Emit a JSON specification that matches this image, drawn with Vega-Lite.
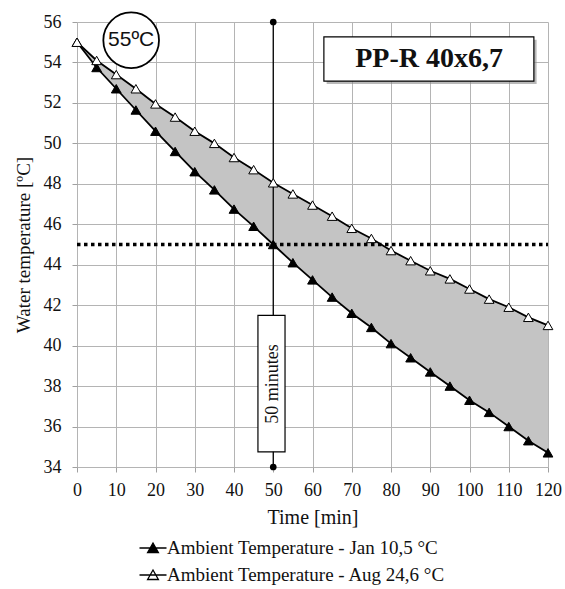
{
  "$schema": "https://vega.github.io/schema/vega-lite/v6.json",
  "width": 471,
  "height": 445,
  "autosize": {"type": "none"},
  "padding": {"left": 77, "top": 22, "right": 17, "bottom": 122},
  "background": "white",
  "datasets": {
    "temps": [
      {"t": 0, "jan": 55.0, "aug": 55.0},
      {"t": 5, "jan": 53.75, "aug": 54.1},
      {"t": 10, "jan": 52.7, "aug": 53.4},
      {"t": 15, "jan": 51.65, "aug": 52.7},
      {"t": 20, "jan": 50.6, "aug": 51.95},
      {"t": 25, "jan": 49.6, "aug": 51.3},
      {"t": 30, "jan": 48.6, "aug": 50.6},
      {"t": 35, "jan": 47.7, "aug": 50.0},
      {"t": 40, "jan": 46.75, "aug": 49.3},
      {"t": 45, "jan": 45.9, "aug": 48.7},
      {"t": 50, "jan": 45.0, "aug": 48.05},
      {"t": 55, "jan": 44.1, "aug": 47.5},
      {"t": 60, "jan": 43.25, "aug": 46.95},
      {"t": 65, "jan": 42.4, "aug": 46.4},
      {"t": 70, "jan": 41.6, "aug": 45.8},
      {"t": 75, "jan": 40.9, "aug": 45.3},
      {"t": 80, "jan": 40.1, "aug": 44.7},
      {"t": 85, "jan": 39.4, "aug": 44.2},
      {"t": 90, "jan": 38.7, "aug": 43.7},
      {"t": 95, "jan": 38.0, "aug": 43.3},
      {"t": 100, "jan": 37.3, "aug": 42.8},
      {"t": 105, "jan": 36.7, "aug": 42.3},
      {"t": 110, "jan": 36.0, "aug": 41.9},
      {"t": 115, "jan": 35.3, "aug": 41.4},
      {"t": 120, "jan": 34.7, "aug": 41.0}
    ]
  },
  "config": {
    "view": {"stroke": null},
    "axis": {
      "labelFont": "Liberation Serif",
      "labelFontSize": 18,
      "labelColor": "#111",
      "labelOverlap": false,
      "titleFont": "Liberation Serif",
      "titleFontSize": 19,
      "titleFontWeight": "normal",
      "titleColor": "#111",
      "gridColor": "#b4b4b4",
      "gridWidth": 1,
      "tickColor": "#a0a0a0",
      "tickSize": 5,
      "domain": false
    },
    "axisX": {"labelPadding": 9, "titlePadding": 8, "titleFontSize": 20, "labelFlush": false, "labelBound": false, "labelOverlap": false},
    "axisY": {"labelPadding": 11, "titlePadding": 10, "labelOverlap": false}
  },
  "layer": [
    {
      "data": {"name": "temps"},
      "mark": {"type": "area", "color": "#c4c4c4", "opacity": 1},
      "encoding": {
        "x": {"field": "t", "type": "quantitative", "scale": {"domain": [0, 120], "nice": false},
              "axis": {"values": [0,10,20,30,40,50,60,70,80,90,100,110,120], "title": "Time [min]", "labelOverlap": false}},
        "y": {"field": "jan", "type": "quantitative", "scale": {"domain": [34, 56], "nice": false, "zero": false},
              "axis": {"values": [34,36,38,40,42,44,46,48,50,52,54,56], "title": "Water temperature [ºC]", "labelOverlap": false}},
        "y2": {"field": "aug"}
      }
    },
    {
      "data": {"values": [{"x0": 0, "x1": 120, "y": 45}]},
      "mark": {"type": "rule", "color": "black", "strokeWidth": 3.5, "strokeDash": [3.5, 3.5]},
      "encoding": {
        "x": {"field": "x0", "type": "quantitative", "axis": {"values": [0,10,20,30,40,50,60,70,80,90,100,110,120], "title": "Time [min]", "labelOverlap": false}},
        "x2": {"field": "x1"},
        "y": {"field": "y", "type": "quantitative", "axis": {"values": [34,36,38,40,42,44,46,48,50,52,54,56], "title": "Water temperature [ºC]", "labelOverlap": false}}
      }
    },
    {
      "data": {"values": [{"x": 50, "y0": 34, "y1": 56}]},
      "mark": {"type": "rule", "color": "black", "strokeWidth": 1.3},
      "encoding": {
        "x": {"field": "x", "type": "quantitative", "axis": {"values": [0,10,20,30,40,50,60,70,80,90,100,110,120], "title": "Time [min]", "labelOverlap": false}},
        "y": {"field": "y0", "type": "quantitative", "axis": {"values": [34,36,38,40,42,44,46,48,50,52,54,56], "title": "Water temperature [ºC]", "labelOverlap": false}},
        "y2": {"field": "y1"}
      }
    },
    {
      "data": {"values": [{"x": 50, "y": 34}, {"x": 50, "y": 56}]},
      "mark": {"type": "point", "shape": "circle", "filled": true, "color": "black", "size": 45, "opacity": 1},
      "encoding": {
        "x": {"field": "x", "type": "quantitative", "axis": {"values": [0,10,20,30,40,50,60,70,80,90,100,110,120], "title": "Time [min]", "labelOverlap": false}},
        "y": {"field": "y", "type": "quantitative", "axis": {"values": [34,36,38,40,42,44,46,48,50,52,54,56], "title": "Water temperature [ºC]", "labelOverlap": false}}
      }
    },
    {
      "data": {"name": "temps"},
      "transform": [{"fold": ["jan", "aug"], "as": ["series", "temp"]}],
      "mark": {"type": "line", "color": "black", "strokeWidth": 1.8},
      "encoding": {
        "x": {"field": "t", "type": "quantitative", "axis": {"values": [0,10,20,30,40,50,60,70,80,90,100,110,120], "title": "Time [min]", "labelOverlap": false}},
        "y": {"field": "temp", "type": "quantitative", "axis": {"values": [34,36,38,40,42,44,46,48,50,52,54,56], "title": "Water temperature [ºC]", "labelOverlap": false}},
        "detail": {"field": "series"}
      }
    },
    {
      "data": {"name": "temps"},
      "transform": [{"fold": ["jan", "aug"], "as": ["series", "temp"]}],
      "mark": {"type": "point", "shape": "triangle-up", "filled": true, "stroke": "black", "strokeWidth": 1, "size": 95, "opacity": 1},
      "encoding": {
        "x": {"field": "t", "type": "quantitative", "axis": {"values": [0,10,20,30,40,50,60,70,80,90,100,110,120], "title": "Time [min]", "labelOverlap": false}},
        "y": {"field": "temp", "type": "quantitative", "axis": {"values": [34,36,38,40,42,44,46,48,50,52,54,56], "title": "Water temperature [ºC]", "labelOverlap": false}},
        "fill": {
          "field": "series", "type": "nominal",
          "scale": {"domain": ["jan", "aug"], "range": ["black", "white"]},
          "legend": {
            "title": null,
            "orient": "none",
            "legendX": 66,
            "legendY": 516,
            "direction": "vertical",
            "labelFont": "Liberation Serif",
            "labelFontSize": 19,
            "labelColor": "#111",
            "labelLimit": 500,
            "labelOffset": 4,
            "rowPadding": 7,
            "symbolType": "M-1.5,0H1.5M0,-0.55L0.6,0.5H-0.6Z",
            "symbolSize": 324,
            "symbolStrokeColor": "black",
            "symbolStrokeWidth": 1.3,
            "symbolOpacity": 1,
            "labelExpr": "datum.label == 'jan' ? 'Ambient Temperature - Jan 10,5 °C' : 'Ambient Temperature - Aug 24,6 °C'"
          }
        }
      }
    },
    {
      "data": {"values": [{"x0": 46.1, "x1": 53.0, "y0": 34.75, "y1": 41.5}]},
      "mark": {"type": "rect", "fill": "white", "stroke": "black", "strokeWidth": 1.2},
      "encoding": {
        "x": {"field": "x0", "type": "quantitative", "axis": {"values": [0,10,20,30,40,50,60,70,80,90,100,110,120], "title": "Time [min]", "labelOverlap": false}},
        "x2": {"field": "x1"},
        "y": {"field": "y0", "type": "quantitative", "axis": {"values": [34,36,38,40,42,44,46,48,50,52,54,56], "title": "Water temperature [ºC]", "labelOverlap": false}},
        "y2": {"field": "y1"}
      }
    },
    {
      "data": {"values": [{"x": 50, "y": 38.1, "label": "50 minutes"}]},
      "mark": {"type": "text", "font": "Liberation Serif", "fontSize": 18, "angle": 270, "align": "center", "baseline": "middle", "color": "#111"},
      "encoding": {
        "x": {"field": "x", "type": "quantitative", "axis": {"values": [0,10,20,30,40,50,60,70,80,90,100,110,120], "title": "Time [min]", "labelOverlap": false}},
        "y": {"field": "y", "type": "quantitative", "axis": {"values": [34,36,38,40,42,44,46,48,50,52,54,56], "title": "Water temperature [ºC]", "labelOverlap": false}},
        "text": {"field": "label"}
      }
    },
    {
      "data": {"values": [{"x": 13.8, "y": 55.1}]},
      "mark": {"type": "point", "shape": "circle", "fill": "white", "stroke": "black", "strokeWidth": 1.8, "size": 3100, "opacity": 1},
      "encoding": {
        "x": {"field": "x", "type": "quantitative", "axis": {"values": [0,10,20,30,40,50,60,70,80,90,100,110,120], "title": "Time [min]", "labelOverlap": false}},
        "y": {"field": "y", "type": "quantitative", "axis": {"values": [34,36,38,40,42,44,46,48,50,52,54,56], "title": "Water temperature [ºC]", "labelOverlap": false}}
      }
    },
    {
      "data": {"values": [{"x": 13.8, "y": 55.1, "label": "55ºC"}]},
      "mark": {"type": "text", "font": "Liberation Sans", "fontSize": 21, "align": "center", "baseline": "middle", "color": "#111"},
      "encoding": {
        "x": {"field": "x", "type": "quantitative", "axis": {"values": [0,10,20,30,40,50,60,70,80,90,100,110,120], "title": "Time [min]", "labelOverlap": false}},
        "y": {"field": "y", "type": "quantitative", "axis": {"values": [34,36,38,40,42,44,46,48,50,52,54,56], "title": "Water temperature [ºC]", "labelOverlap": false}},
        "text": {"field": "label"}
      }
    },
    {
      "data": {"values": [{"x0": 63.6, "x1": 117.1, "y0": 55.12, "y1": 52.93}]},
      "mark": {"type": "rect", "fill": "#8a8a8a", "opacity": 0.6},
      "encoding": {
        "x": {"field": "x0", "type": "quantitative", "axis": {"values": [0,10,20,30,40,50,60,70,80,90,100,110,120], "title": "Time [min]", "labelOverlap": false}},
        "x2": {"field": "x1"},
        "y": {"field": "y0", "type": "quantitative", "axis": {"values": [34,36,38,40,42,44,46,48,50,52,54,56], "title": "Water temperature [ºC]", "labelOverlap": false}},
        "y2": {"field": "y1"}
      }
    },
    {
      "data": {"values": [{"x0": 62.9, "x1": 116.4, "y0": 55.26, "y1": 53.08}]},
      "mark": {"type": "rect", "fill": "white", "stroke": "black", "strokeWidth": 1.2},
      "encoding": {
        "x": {"field": "x0", "type": "quantitative", "axis": {"values": [0,10,20,30,40,50,60,70,80,90,100,110,120], "title": "Time [min]", "labelOverlap": false}},
        "x2": {"field": "x1"},
        "y": {"field": "y0", "type": "quantitative", "axis": {"values": [34,36,38,40,42,44,46,48,50,52,54,56], "title": "Water temperature [ºC]", "labelOverlap": false}},
        "y2": {"field": "y1"}
      }
    },
    {
      "data": {"values": [{"x": 89.7, "y": 54.17, "label": "PP-R 40x6,7"}]},
      "mark": {"type": "text", "font": "Liberation Serif", "fontSize": 28, "fontWeight": "bold", "align": "center", "baseline": "middle", "color": "#111"},
      "encoding": {
        "x": {"field": "x", "type": "quantitative", "axis": {"values": [0,10,20,30,40,50,60,70,80,90,100,110,120], "title": "Time [min]", "labelOverlap": false}},
        "y": {"field": "y", "type": "quantitative", "axis": {"values": [34,36,38,40,42,44,46,48,50,52,54,56], "title": "Water temperature [ºC]", "labelOverlap": false}},
        "text": {"field": "label"}
      }
    }
  ]
}
